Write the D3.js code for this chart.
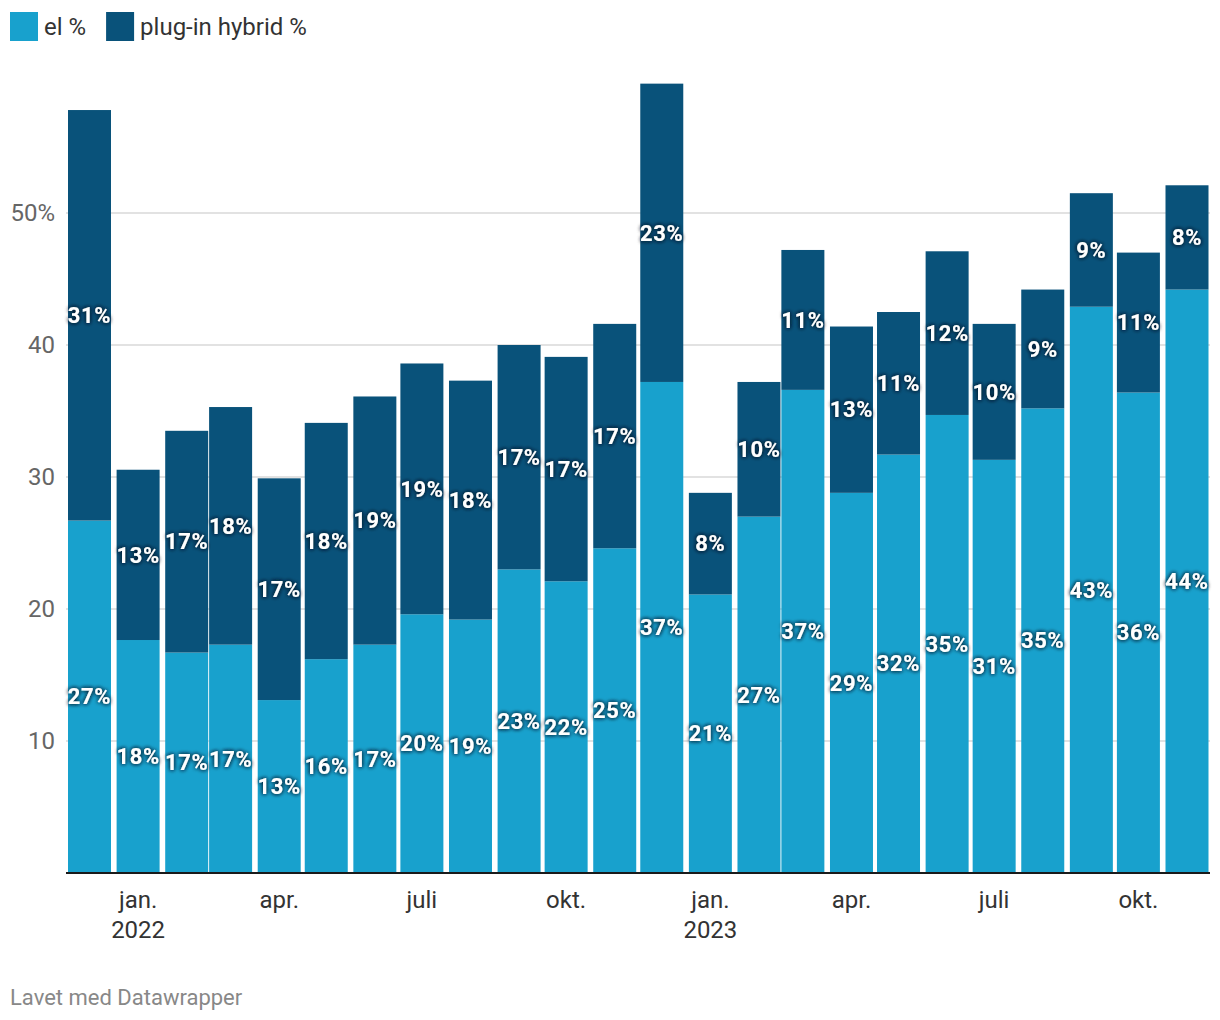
<!DOCTYPE html>
<html>
<head>
<meta charset="utf-8">
<script src="https://cdn.jsdelivr.net/npm/d3@7"></script>
<style>
  html, body { margin: 0; padding: 0; background: #fff; }
  svg { display: block; font-family: Roboto, "Noto Sans", sans-serif; }
</style>
</head>
<body>
<svg id="chart" width="1220" height="1020"></svg>
<script>
// ---- data ----
const months = ["2021-12","2022-01","2022-02","2022-03","2022-04","2022-05","2022-06","2022-07","2022-08","2022-09","2022-10","2022-11",
                "2022-12","2023-01","2023-02","2023-03","2023-04","2023-05","2023-06","2023-07","2023-08","2023-09","2023-10","2023-11"];
const elValues = [26.7,17.65,16.7,17.3,13.1,16.2,17.3,19.6,19.2,23.0,22.1,24.6,
                  37.2,21.1,27.0,36.6,28.8,31.7,34.7,31.3,35.2,42.9,36.4,44.2];
const phevValues = [31.1,12.9,16.8,18.0,16.8,17.9,18.8,19.0,18.1,17.0,17.0,17.0,
                    22.6,7.7,10.2,10.6,12.6,10.8,12.4,10.3,9.0,8.6,10.6,7.9];
const seriesNames = ["el %","plug-in hybrid %"];
const yTicks = [10,20,30,40,50];
const xTickDates = ["2022-01","2022-04","2022-07","2022-10","2023-01","2023-04","2023-07","2023-10"];
const xTickLabels = [["jan.","2022"],["apr."],["juli"],["okt."],["jan.","2023"],["apr."],["juli"],["okt."]];
const footerText = "Lavet med Datawrapper";

const colors = ["#18a1cd","#09527a"];

const parse = d3.timeParse("%Y-%m");
const svg = d3.select("#chart");

const x = d3.scaleTime()
  .domain([parse(months[0]), parse(months[months.length-1])])
  .range([89.5, 1187]);
const y = d3.scaleLinear().domain([0, 50]).range([873, 213]);
const barW = 43;
const plotLeft = 66, plotRight = 1210;

// filter for label shadow
const defs = svg.append("defs");
const f = defs.append("filter").attr("id","shadow").attr("x","-30%").attr("y","-50%").attr("width","160%").attr("height","200%");
f.append("feGaussianBlur").attr("in","SourceAlpha").attr("stdDeviation",2).attr("result","b");
f.append("feFlood").attr("flood-color","#001a2a").attr("flood-opacity",0.85).attr("result","c");
f.append("feComposite").attr("in","c").attr("in2","b").attr("operator","in").attr("result","s");
const fm = f.append("feMerge");
fm.append("feMergeNode").attr("in","s");
fm.append("feMergeNode").attr("in","s");
fm.append("feMergeNode").attr("in","SourceGraphic");

// legend
const legend = svg.append("g");
let lx = 10;
seriesNames.forEach((n,i) => {
  legend.append("rect").attr("x", lx).attr("y", 12).attr("width", 28).attr("height", 29).attr("fill", colors[i]);
  const t = legend.append("text").attr("x", lx + 34).attr("y", 35).attr("font-size", 24).attr("fill", "#333").text(n);
  lx = lx + 34 + t.node().getComputedTextLength() + 20;
});

// gridlines
const grid = svg.append("g");
grid.selectAll("line").data(yTicks).join("line")
  .attr("x1", plotLeft).attr("x2", plotRight)
  .attr("y1", d => y(d)).attr("y2", d => y(d))
  .attr("stroke", "#d9d9d9").attr("stroke-width", 1.5);
grid.selectAll("text").data(yTicks).join("text")
  .attr("x", 55).attr("y", d => y(d)).attr("dy", "0.35em")
  .attr("text-anchor", "end").attr("font-size", 24).attr("fill", "#666")
  .text(d => d === 50 ? d + "%" : d);

// data
const data = months.map((m,i) => ({date: parse(m), el: elValues[i], ph: phevValues[i]}));
const stack = d3.stack().keys(["el","ph"])(data);

const bars = svg.append("g");
stack.forEach((layer, li) => {
  bars.append("g").selectAll("rect").data(layer).join("rect")
    .attr("x", d => x(d.data.date) - barW/2)
    .attr("width", barW)
    .attr("y", d => y(d[1]))
    .attr("height", d => y(d[0]) - y(d[1]))
    .attr("fill", colors[li]);
});

// baseline
svg.append("line").attr("x1", plotLeft).attr("x2", plotRight)
  .attr("y1", y(0)).attr("y2", y(0)).attr("stroke", "#1a1a1a").attr("stroke-width", 2);

// value labels
const labels = svg.append("g").attr("filter","url(#shadow)");
stack.forEach((layer) => {
  labels.append("g").selectAll("text").data(layer).join("text")
    .attr("x", d => x(d.data.date))
    .attr("y", d => y((d[0] + d[1]) / 2))
    .attr("dy", "0.35em")
    .attr("text-anchor", "middle")
    .attr("font-size", 22).attr("font-weight", 700).attr("fill", "#fff")
    .attr("letter-spacing", 0.6)
    .text(d => Math.round(d[1] - d[0]) + "%");
});

// x axis labels
const xa = svg.append("g");
xTickDates.forEach((d,i) => {
  const t = xa.append("text").attr("x", x(parse(d))).attr("y", 908)
    .attr("text-anchor","middle").attr("font-size", 24).attr("fill","#333");
  xTickLabels[i].forEach((s,j) => {
    t.append("tspan").attr("x", x(parse(d))).attr("dy", j === 0 ? 0 : 30).text(s);
  });
});

// footer
svg.append("text").attr("x", 10).attr("y", 1005).attr("font-size", 22).attr("fill", "#888").text(footerText);
</script>
</body>
</html>
